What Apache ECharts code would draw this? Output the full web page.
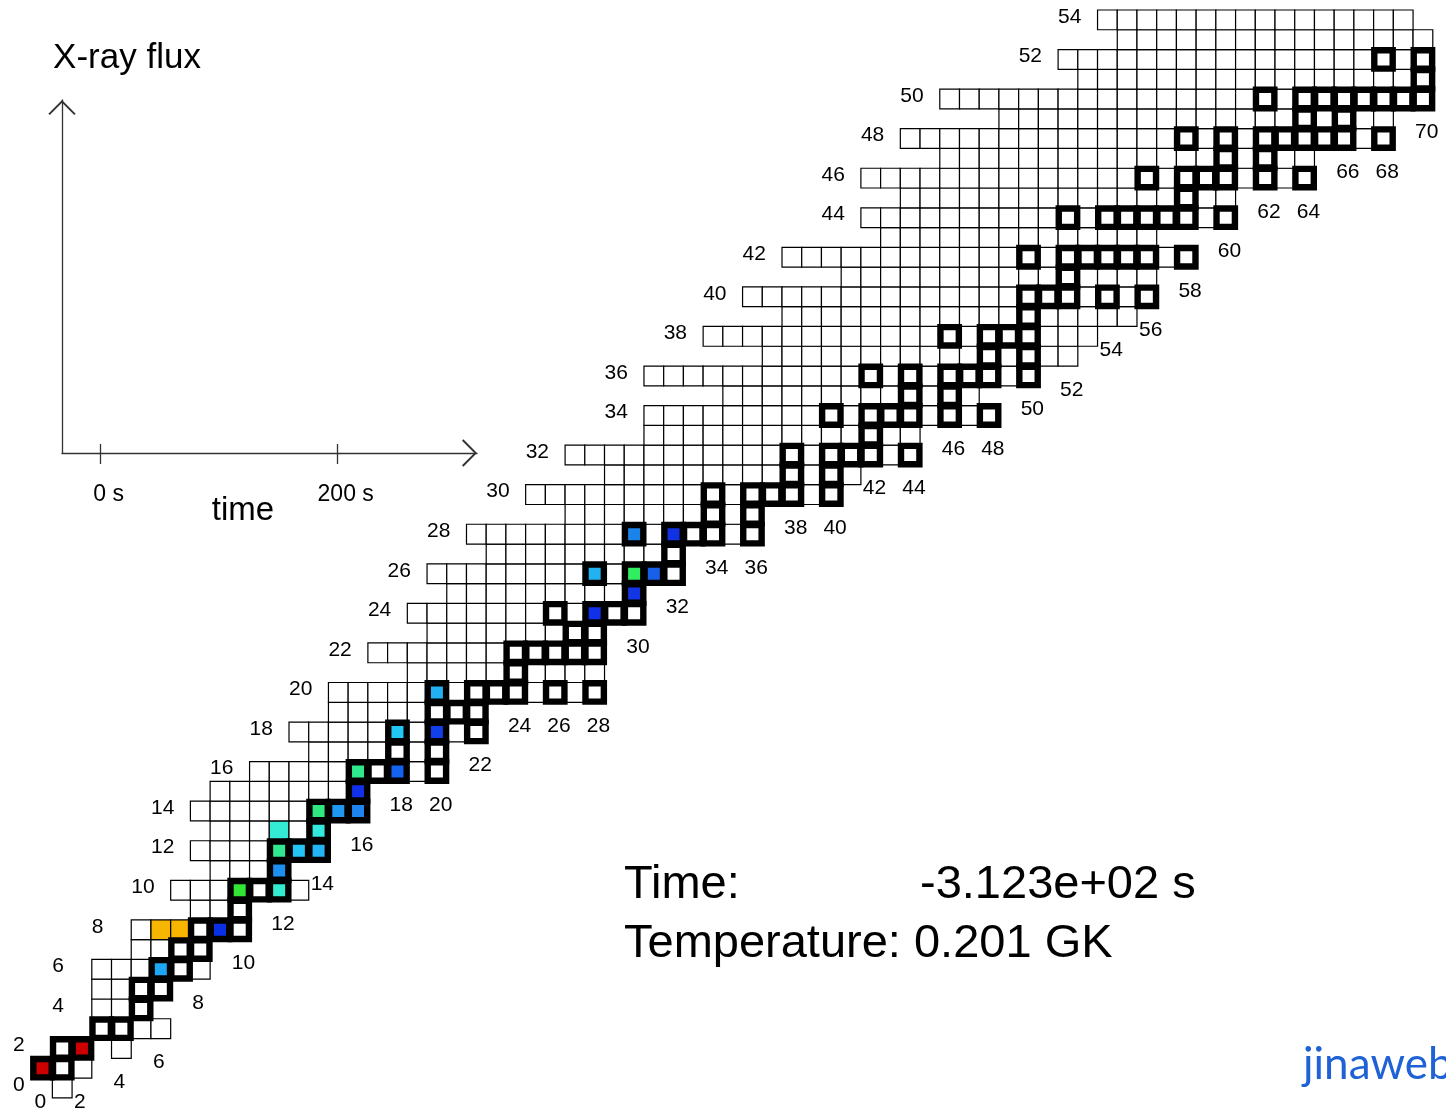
<!DOCTYPE html>
<html>
<head>
<meta charset="utf-8">
<title>rp-process nuclide chart</title>
<script src="https://cdn.jsdelivr.net/npm/echarts@6/dist/echarts.min.js"></script>
<style>
html, body { margin: 0; padding: 0; background: #fff; }
#chart { width: 1446px; height: 1108px; }
</style>
</head>
<body>
<div id="chart"></div>
<script>
// ---- data (index of each row array = proton number Z) ----
var rowNMin = [
  1, 0, 1, 3, 3, 3, 3, 5, 5, 8,
  7, 9, 8, 9, 8, 9, 11, 14, 13, 15,
  15, 19, 17, 20, 19, 21, 20, 23, 22, 27,
  25, 29, 27, 31, 31, 35, 31, 37, 34, 38,
  36, 41, 38, 43, 42, 44, 42, 46, 44, 49,
  46, 53, 52, 55, 54
];
var rowNMax = [
  1, 2, 4, 6, 5, 6, 8, 8, 10, 10,
  13, 12, 14, 14, 16, 16, 20, 20, 22, 22,
  28, 28, 28, 28, 30, 30, 32, 32, 36, 36,
  40, 41, 44, 44, 48, 47, 50, 52, 53, 55,
  56, 56, 58, 56, 60, 60, 64, 64, 68, 68,
  70, 70, 70, 70, 69
];
var missingCells = [[2, 3]]; // [Z, N] holes inside a row (He-5)

// stable nuclei (thick boxes), neutron numbers per Z
var stableN = [
  [], [0, 1], [1, 2], [3, 4], [5], [5, 6], [6, 7], [7, 8], [8, 9, 10], [10],
  [10, 11, 12], [12], [12, 13, 14], [14], [14, 15, 16], [16], [16, 17, 18, 20], [18, 20], [18, 20, 22], [20, 21, 22],
  [20, 22, 23, 24, 26, 28], [24], [24, 25, 26, 27, 28], [27, 28], [26, 28, 29, 30], [30], [28, 30, 31, 32], [32], [30, 32, 33, 34, 36], [34, 36],
  [34, 36, 37, 38, 40], [38, 40], [38, 40, 41, 42, 44], [42], [40, 42, 43, 44, 46, 48], [44, 46], [42, 44, 46, 47, 48, 50], [48, 50], [46, 48, 49, 50], [50],
  [50, 51, 52, 54, 56], [52], [50, 52, 53, 54, 55, 56, 58], [], [52, 54, 55, 56, 57, 58, 60], [58], [56, 58, 59, 60, 62, 64], [60, 62], [58, 60, 62, 63, 64, 65, 66, 68], [64, 66],
  [62, 64, 65, 66, 67, 68, 69, 70], [70], [68, 70], [], []
];

// abundance colouring
var abundZ = [1, 2, 6, 8, 8, 8, 10, 10, 11, 12, 12, 12, 13, 13, 14, 14, 14, 15, 16, 16, 18, 18, 20, 24, 25, 26, 26, 26, 28, 28];
var abundN = [0, 2, 6, 6, 7, 9, 10, 12, 12, 12, 13, 14, 12, 14, 14, 15, 16, 16, 16, 18, 18, 20, 20, 28, 30, 28, 30, 31, 30, 32];
var abundColor = [
  '#cc0000', '#cc0000', '#1fa6f5', '#f7b500', '#f7b500', '#0a30e6', '#33e633', '#33ebcf', '#1c90f0', '#30e890',
  '#24c4f5', '#22b4f3', '#35ead5', '#33e8dc', '#30e880', '#1e98f2', '#1e84f0', '#1030ea', '#30e88c', '#1462f0',
  '#22c6f3', '#1240e8', '#22b0f2', '#1030ea', '#1236e6', '#22b2f2', '#30ee60', '#1860ea', '#1a84ea', '#1032e4'
];

var fluxTicks = [0, 200];
var timeLabel = 'Time:';
var timeValue = '-3.123e+02 s';
var tempLabel = 'Temperature: 0.201 GK';

// ---- build cell lists ----
var FONT = '"Liberation Sans", Arial, Helvetica, sans-serif';

function abundanceOf(z, n) {
  for (var i = 0; i < abundZ.length; i++) {
    if (abundZ[i] === z && abundN[i] === n) return abundColor[i];
  }
  return null;
}
function isMissing(z, n) {
  return missingCells.some(function (c) { return c[0] === z && c[1] === n; });
}

var thinData = [], thinFill = [];
var thickData = [], thickFill = [];
var lowestZ = {};
for (var z = 0; z < rowNMin.length; z++) {
  for (var n = rowNMin[z]; n <= rowNMax[z]; n++) {
    if (isMissing(z, n)) continue;
    if (lowestZ[n] === undefined) lowestZ[n] = z;
    if (stableN[z].indexOf(n) >= 0) {
      thickData.push([n, z]);
      thickFill.push(abundanceOf(z, n) || '#fff');
    } else {
      thinData.push([n, z]);
      thinFill.push(abundanceOf(z, n) || '#fff');
    }
  }
}

var zLabelData = [];
for (var zz = 0; zz < rowNMin.length; zz += 2) zLabelData.push([rowNMin[zz], zz]);
var nLabelData = [];
for (var nn = 0; nn <= 70; nn += 2) {
  if (lowestZ[nn] !== undefined) nLabelData.push([nn, lowestZ[nn]]);
}

function drawThin(params, api) {
  var c = api.coord([api.value(0), api.value(1)]);
  var s = api.size([1, 1]);
  return {
    type: 'rect',
    shape: { x: c[0] - s[0] / 2, y: c[1] - s[1] / 2, width: s[0], height: s[1] },
    style: { fill: thinFill[params.dataIndex], stroke: '#000', lineWidth: 1.2 }
  };
}
function drawThick(params, api) {
  var c = api.coord([api.value(0), api.value(1)]);
  var b = 18.4;
  return {
    type: 'rect',
    shape: { x: c[0] - b / 2, y: c[1] - b / 2, width: b, height: b },
    style: { fill: thickFill[params.dataIndex], stroke: '#000', lineWidth: 6.4 }
  };
}
function labelStyle(txt) {
  return {
    text: txt, fill: '#000', font: '21px ' + FONT, fontSize: 21, fontFamily: FONT,
    align: 'left', textAlign: 'left', verticalAlign: 'middle', textVerticalAlign: 'middle'
  };
}
function drawZLabel(params, api) {
  var c = api.coord([api.value(0), api.value(1)]);
  var s = api.size([1, 1]);
  return { type: 'text', x: c[0] - 2.5 * s[0], y: c[1] - 3, style: labelStyle(String(api.value(1))) };
}
function drawNLabel(params, api) {
  var c = api.coord([api.value(0), api.value(1)]);
  var s = api.size([1, 1]);
  return { type: 'text', x: c[0] - 0.4 * s[0], y: c[1] + 1.7 * s[1], style: labelStyle(String(api.value(0))) };
}

var ARROW = 'path://M0,14 L14,0 L28,14 L26.6,15.4 L14,2.8 L1.4,15.4 Z';
var axisGrey = { color: '#333', width: 1.3 };

var chart = echarts.init(document.getElementById('chart'));
var option = {
  animation: false,
  backgroundColor: '#fff',
  grid: [
    { left: 0, top: 0, width: 1446, height: 1108, containLabel: false, outerBoundsMode: 'none' },
    { left: 62, top: 100, width: 415, height: 353, containLabel: false, outerBoundsMode: 'none' }
  ],
  xAxis: [
    { gridIndex: 0, type: 'value', min: -2.155, max: 71.17, show: false },
    {
      gridIndex: 1, type: 'value', min: -32.66, max: 317.55, position: 'bottom',
      name: 'time', nameLocation: 'middle', nameGap: 58, nameMoveOverlap: false,
      nameTextStyle: { fontFamily: FONT, fontSize: 33, color: '#000', align: 'center', verticalAlign: 'middle', padding: [0, 53, 0, 0] },
      axisLine: { show: true, onZero: false, lineStyle: axisGrey, symbol: ['none', ARROW], symbolSize: [28, 15], symbolOffset: [0, -7.5] },
      axisTick: { show: true, inside: false, length: 11, lineStyle: axisGrey, customValues: fluxTicks },
      axisLabel: { show: true, fontFamily: FONT, fontSize: 23, color: '#000', margin: 30, padding: [0, 0, 0, 16],
        customValues: fluxTicks, formatter: function (v) { return v + ' s'; } },
      splitLine: { show: false }
    },
    {
      gridIndex: 1, type: 'value', min: -32.66, max: 317.55, position: 'bottom',
      axisLine: { show: false, onZero: false },
      axisTick: { show: true, inside: true, length: 9, lineStyle: axisGrey, customValues: fluxTicks },
      axisLabel: { show: false },
      splitLine: { show: false }
    }
  ],
  yAxis: [
    { gridIndex: 0, type: 'value', min: -1.011, max: 55.005, show: false },
    {
      gridIndex: 1, type: 'value', min: 0, max: 1,
      name: 'X-ray flux', nameLocation: 'end', nameGap: 42, nameMoveOverlap: false,
      nameTextStyle: { fontFamily: FONT, fontSize: 35, color: '#000', align: 'center', verticalAlign: 'middle', padding: [0, 0, 0, 130] },
      axisLine: { show: true, onZero: false, lineStyle: axisGrey, symbol: ['none', ARROW], symbolSize: [28, 15], symbolOffset: [0, -7.5] },
      axisTick: { show: false },
      axisLabel: { show: false },
      splitLine: { show: false }
    }
  ],
  series: [
    { type: 'custom', xAxisIndex: 0, yAxisIndex: 0, z: 2, silent: true, clip: false, renderItem: drawThin, data: thinData },
    { type: 'custom', xAxisIndex: 0, yAxisIndex: 0, z: 3, silent: true, clip: false, renderItem: drawThick, data: thickData },
    { type: 'custom', xAxisIndex: 0, yAxisIndex: 0, z: 4, silent: true, clip: false, renderItem: drawZLabel, data: zLabelData },
    { type: 'custom', xAxisIndex: 0, yAxisIndex: 0, z: 4, silent: true, clip: false, renderItem: drawNLabel, data: nLabelData },
    { type: 'line', xAxisIndex: 1, yAxisIndex: 1, silent: true, data: [] }
  ],
  graphic: [
    { type: 'text', left: 624, top: 862, style: { text: timeLabel, font: '47px ' + FONT, fill: '#000' } },
    { type: 'text', left: 920, top: 862, style: { text: timeValue, font: '47px ' + FONT, fill: '#000' } },
    { type: 'text', left: 624, top: 921, style: { text: tempLabel, font: '47px ' + FONT, fill: '#000' } },
    { type: 'text', left: 1303, top: 1043, style: { text: 'jinaweb.org', font: '44px Lato, "Open Sans", sans-serif', fill: '#1f62d6' } }
  ]
};
chart.setOption(option);
</script>
</body>
</html>
